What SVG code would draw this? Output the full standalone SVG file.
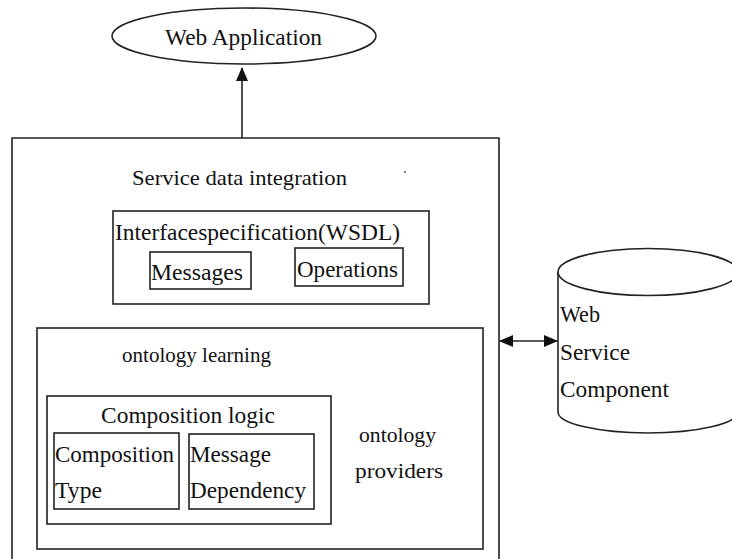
<svg xmlns="http://www.w3.org/2000/svg" width="732" height="559" viewBox="0 0 732 559">
<style>
.s{fill:none;stroke:#222;stroke-width:1.6}
.w{fill:#fff;stroke:#222;stroke-width:1.6}
text{font-family:"Liberation Serif","Times New Roman",serif;fill:#111}
.t{font-size:23px}
.m{font-size:21px}
</style>
<defs>
<marker id="ah" viewBox="0 0 14 12" refX="13" refY="6" markerWidth="14" markerHeight="12" markerUnits="userSpaceOnUse" orient="auto-start-reverse">
<path d="M0,0 L14,6 L0,12 z" fill="#111"/>
</marker>
</defs>
<rect width="732" height="559" fill="#fff"/>
<g id="web-application">
<ellipse class="w" cx="244" cy="36" rx="132" ry="28"/>
<text class="t" x="165" y="45" textLength="157" lengthAdjust="spacingAndGlyphs">Web Application</text>
</g>
<g id="service-data-integration">
<path class="s" d="M12,559 L12,138 L499,138 L499,559"/>
<text class="m" x="132" y="185" textLength="215" lengthAdjust="spacingAndGlyphs">Service  data integration</text>
<circle cx="405" cy="172" r="1" fill="#555"/>
</g>
<g id="interface-specification">
<rect class="s" x="113" y="211" width="316" height="93"/>
<text class="t" x="115" y="240" textLength="285" lengthAdjust="spacingAndGlyphs">Interfacespecification(WSDL)</text>
</g>
<g id="messages">
<rect class="s" x="150" y="252" width="101" height="37"/>
<text class="t" x="151" y="280" textLength="92" lengthAdjust="spacingAndGlyphs">Messages</text>
</g>
<g id="operations">
<rect class="s" x="295" y="248" width="108" height="38"/>
<text class="t" x="297" y="277" textLength="101" lengthAdjust="spacingAndGlyphs">Operations</text>
</g>
<g id="ontology-learning">
<rect class="s" x="37" y="328" width="446" height="221"/>
<text class="m" x="122" y="362" textLength="149" lengthAdjust="spacingAndGlyphs">ontology learning</text>
<text class="m" x="359" y="442" textLength="77" lengthAdjust="spacingAndGlyphs">ontology</text>
<text class="m" x="355" y="478" textLength="88" lengthAdjust="spacingAndGlyphs">providers</text>
</g>
<g id="composition-logic">
<rect class="s" x="47" y="396" width="284" height="128"/>
<text class="t" x="101" y="423" textLength="174" lengthAdjust="spacingAndGlyphs">Composition logic</text>
</g>
<g id="composition-type">
<rect class="s" x="54" y="433" width="125" height="76"/>
<text class="t" x="55" y="462" textLength="119" lengthAdjust="spacingAndGlyphs">Composition</text>
<text class="t" x="55" y="498" textLength="47" lengthAdjust="spacingAndGlyphs">Type</text>
</g>
<g id="message-dependency">
<rect class="s" x="189" y="434" width="125" height="75"/>
<text class="t" x="190" y="462" textLength="81" lengthAdjust="spacingAndGlyphs">Message</text>
<text class="t" x="190" y="498" textLength="116" lengthAdjust="spacingAndGlyphs">Dependency</text>
</g>
<g id="web-service-component">
<path class="w" d="M558,272 L558,412 A90,21 0 0 0 738,412 L738,272"/>
<ellipse class="w" cx="648" cy="272" rx="90" ry="23.5"/>
<text class="t" x="560" y="322" textLength="40" lengthAdjust="spacingAndGlyphs">Web</text>
<text class="t" x="560" y="360" textLength="70" lengthAdjust="spacingAndGlyphs">Service</text>
<text class="t" x="560" y="397" textLength="109" lengthAdjust="spacingAndGlyphs">Component</text>
</g>
<g id="connectors">
<line class="s" x1="242" y1="138" x2="242" y2="68" marker-end="url(#ah)"/>
<line class="s" x1="500" y1="341" x2="557" y2="341" marker-start="url(#ah)" marker-end="url(#ah)"/>
</g>
</svg>
